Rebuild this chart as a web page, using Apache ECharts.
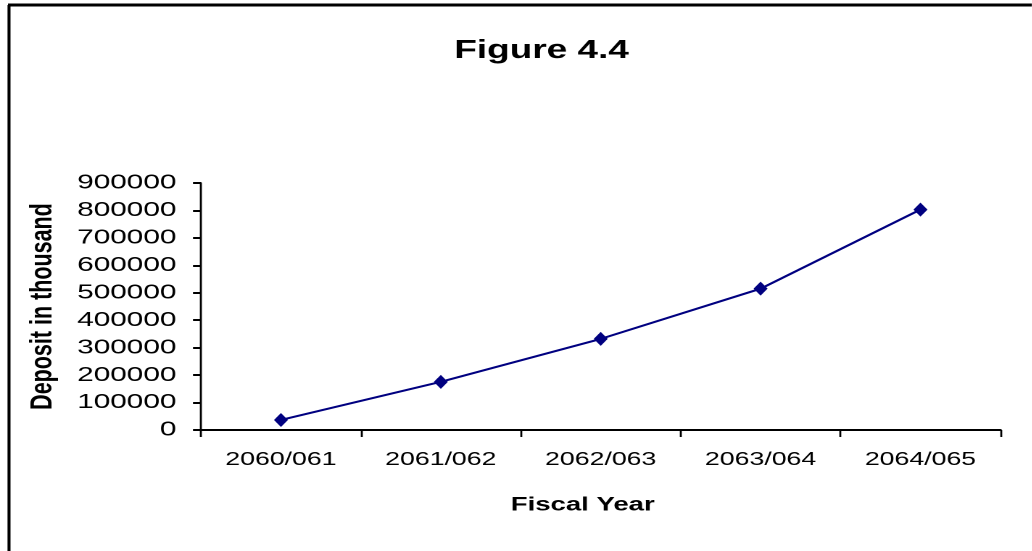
<!DOCTYPE html>
<html>
<head>
<meta charset="utf-8">
<script src="https://cdn.jsdelivr.net/npm/echarts@6/dist/echarts.min.js"></script>
<style>
  html, body { margin: 0; padding: 0; background: #fff; overflow: hidden; }
  #chart { height: 551px; transform-origin: 0 0; }
</style>
</head>
<body>
<div id="chart"></div>
<script>
// Deposits by fiscal year (in thousand)
const fiscalYears = ['2060/061', '2061/062', '2062/063', '2063/064', '2064/065'];
const deposits = [36500, 175500, 332000, 515000, 803000];
const yTicks = { min: 0, max: 900000, step: 100000 };

// The figure is laid out on a narrower canvas and widened horizontally,
// giving the broad, stretched lettering of the printed figure.
const S = 1.45;
const W = 1032, H = 551;
const el = document.getElementById('chart');
el.style.width = (W / S) + 'px';
el.style.transform = 'scaleX(' + S + ')';

const font = 'Arial, "Liberation Sans", sans-serif';
const chart = echarts.init(el, null, { devicePixelRatio: 2 });

chart.setOption({
  backgroundColor: '#ffffff',
  animation: false,
  title: {
    text: 'Figure 4.4',
    left: 447 / S,
    top: 33,
    textStyle: { fontFamily: font, fontSize: 25.5, fontWeight: 'bold', color: '#000' }
  },
  graphic: [
    { type: 'line', shape: { x1: 8 / S, y1: 5, x2: W / S, y2: 5 }, style: { stroke: '#000', lineWidth: 3 } },
    { type: 'line', shape: { x1: 9 / S, y1: 5, x2: 9 / S, y2: H }, style: { stroke: '#000', lineWidth: 3 / S } }
  ],
  grid: { left: 201 / S, right: 32 / S, top: 183, bottom: 121 },
  xAxis: {
    type: 'category',
    data: fiscalYears,
    boundaryGap: true,
    name: 'Fiscal Year',
    nameLocation: 'middle',
    nameGap: 66,
    nameTextStyle: {
      fontFamily: font, fontSize: 19, fontWeight: 'bold', color: '#000',
      padding: [0, 36 / S, 0, 0]
    },
    axisLine: { lineStyle: { color: '#000', width: 2 } },
    axisTick: { show: true, length: 7, lineStyle: { color: '#000', width: 2 / S } },
    axisLabel: { fontFamily: font, fontSize: 18.4, color: '#000', margin: 21 },
    splitLine: { show: false }
  },
  yAxis: {
    type: 'value',
    min: yTicks.min,
    max: yTicks.max,
    interval: yTicks.step,
    name: 'Deposit in thousand',
    nameLocation: 'middle',
    nameRotate: 90,
    nameGap: 98,
    nameTextStyle: { fontFamily: font, fontSize: 21.5, fontWeight: 'bold', color: '#000' },
    axisLine: { show: true, lineStyle: { color: '#000', width: 2 / S } },
    axisTick: { show: true, length: 8 / S, lineStyle: { color: '#000', width: 2 } },
    axisLabel: {
      fontFamily: font, fontSize: 20.5, color: '#000', margin: 17,
      formatter: v => String(v)
    },
    splitLine: { show: false }
  },
  series: [{
    type: 'line',
    data: deposits,
    symbol: 'diamond',
    symbolSize: [14 / S, 14],
    lineStyle: { color: '#000080', width: 2 },
    itemStyle: { color: '#000080' }
  }]
});
</script>
</body>
</html>
